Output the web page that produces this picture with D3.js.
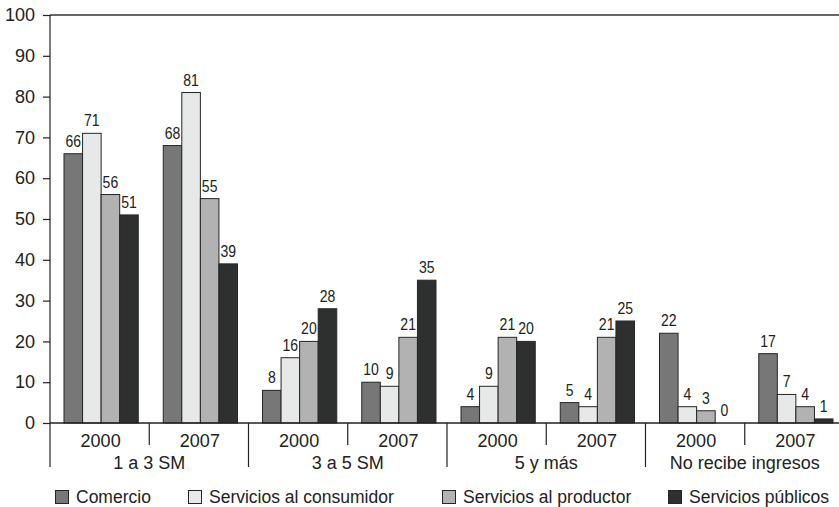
<!DOCTYPE html>
<html>
<head>
<meta charset="utf-8">
<script src="https://cdn.jsdelivr.net/npm/d3@7"></script>
<style>
  html, body { margin: 0; padding: 0; background: #fff; }
  svg { display: block; }
  text { fill: #222; }
</style>
</head>
<body>
<svg id="chart" width="839" height="507"></svg>
<script>
// Income brackets and survey years
const groups = ["1 a 3 SM", "3 a 5 SM", "5 y más", "No recibe ingresos"];
const years = ["2000", "2007"];

// Sector series (percent), one value per bracket/year slot
const seriesNames = ["Comercio", "Servicios al consumidor", "Servicios al productor", "Servicios públicos"];
const comercio    = [66, 68, 8, 10, 4, 5, 22, 17];
const consumidor  = [71, 81, 16, 9, 9, 4, 4, 7];
const productor   = [56, 55, 20, 21, 21, 21, 3, 4];
const publicos    = [51, 39, 28, 35, 20, 25, 0, 1];

const yTicks = [0, 10, 20, 30, 40, 50, 60, 70, 80, 90, 100];

const seriesValues = [comercio, consumidor, productor, publicos];
const colors = ["#777777", "#e7e8e8", "#b2b2b2", "#2e302f"];

const svg = d3.select("#chart");
const sansFont = "'Liberation Sans', Arial, sans-serif";

const plotLeft = 50, plotRight = 844, plotTop = 15, plotBase = 423;

// slot = bracket × year
const slots = [];
groups.forEach((g, gi) => years.forEach((yr, yi) => slots.push({ id: gi + "-" + yi, group: g, year: yr, gi, yi })));

const x = d3.scaleBand().domain(slots.map(s => s.id)).range([plotLeft, plotRight]).padding(0);
const inner = d3.scaleBand().domain(seriesNames).range([14, x.bandwidth() - 11]).padding(0);
const y = d3.scaleLinear().domain([0, 100]).range([plotBase, plotTop]);

// top frame line
svg.append("line")
  .attr("x1", plotLeft).attr("x2", 839).attr("y1", y(100)).attr("y2", y(100))
  .attr("stroke", "#333").attr("stroke-width", 1.6);

// y axis
const yAxis = d3.axisLeft(y).tickValues(yTicks).tickSize(7).tickSizeOuter(0).tickPadding(8);
const gy = svg.append("g").attr("transform", `translate(${plotLeft},0)`).call(yAxis);
gy.select(".domain").remove();
gy.selectAll(".tick line").attr("stroke", "#222").attr("stroke-width", 1.2);
gy.selectAll(".tick text")
  .attr("font-family", sansFont).attr("font-size", 18).attr("fill", "#222");

// left axis line running down past the baseline
svg.append("line")
  .attr("x1", plotLeft).attr("x2", plotLeft).attr("y1", plotTop).attr("y2", 467)
  .attr("stroke", "#222").attr("stroke-width", 1.2);

// bars
const rows = [];
slots.forEach((s, si) => seriesNames.forEach((name, k) => rows.push({ slot: s, name, k, value: seriesValues[k][si] })));

const bars = svg.append("g");
bars.selectAll("rect").data(rows).join("rect")
  .attr("x", d => x(d.slot.id) + inner(d.name))
  .attr("y", d => y(d.value))
  .attr("width", inner.bandwidth())
  .attr("height", d => y(0) - y(d.value))
  .attr("fill", d => colors[d.k])
  .attr("stroke", "#262626")
  .attr("stroke-width", 1);

// value labels, horizontally condensed
bars.selectAll("text").data(rows).join("text")
  .attr("transform", d => `translate(${x(d.slot.id) + inner(d.name) + inner.bandwidth() / 2},${y(d.value) - 7}) scale(0.85,1)`)
  .attr("text-anchor", "middle")
  .attr("font-family", sansFont)
  .attr("font-size", 16.5)
  .text(d => d.value);

// baseline
svg.append("line")
  .attr("x1", plotLeft).attr("x2", 839).attr("y1", plotBase).attr("y2", plotBase)
  .attr("stroke", "#222").attr("stroke-width", 1.4);

// dividers: short between years, long between brackets
slots.forEach(s => {
  const bx = x(s.id) + x.bandwidth();
  if (bx >= 839) return;
  const isGroupEnd = s.yi === years.length - 1;
  svg.append("line")
    .attr("x1", bx).attr("x2", bx).attr("y1", plotBase).attr("y2", isGroupEnd ? 467 : 445)
    .attr("stroke", "#222").attr("stroke-width", 1.2);
});

// year labels
svg.append("g").selectAll("text").data(slots).join("text")
  .attr("x", d => x(d.id) + x.bandwidth() / 2 + 1)
  .attr("y", 447)
  .attr("text-anchor", "middle")
  .attr("font-family", sansFont).attr("font-size", 18)
  .text(d => d.year);

// bracket labels
svg.append("g").selectAll("text").data(groups).join("text")
  .attr("x", (d, i) => x(i + "-0") + x.bandwidth())
  .attr("y", 469)
  .attr("text-anchor", "middle")
  .attr("font-family", sansFont).attr("font-size", 18)
  .text(d => d);

// legend
const legendX = [55, 188, 442, 668];
const lg = svg.append("g").selectAll("g").data(seriesNames).join("g")
  .attr("transform", (d, i) => `translate(${legendX[i]},490)`);
lg.append("rect")
  .attr("x", 0.5).attr("y", 0.5).attr("width", 13).attr("height", 13)
  .attr("fill", (d, i) => colors[i]).attr("stroke", "#262626").attr("stroke-width", 1);
lg.append("text")
  .attr("x", 21).attr("y", 13)
  .attr("font-family", sansFont).attr("font-size", 17.5)
  .text(d => d);
</script>
</body>
</html>
